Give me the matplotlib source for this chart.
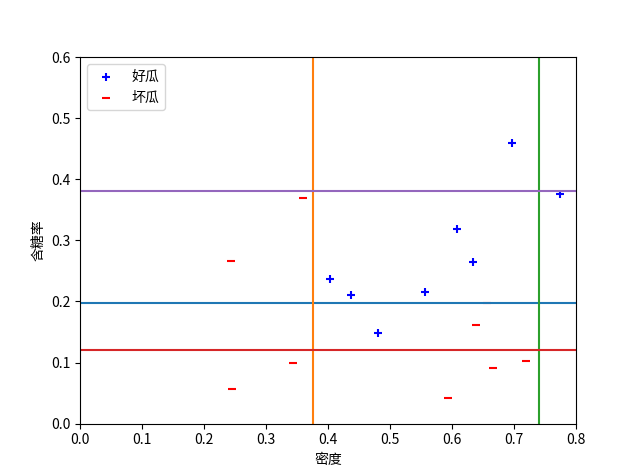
import matplotlib
matplotlib.use("Agg")
import matplotlib.pyplot as plt

plt.rcParams['font.family'] = ['Noto Sans CJK SC', 'DejaVu Sans']
plt.rcParams['axes.unicode_minus'] = False

# watermelon data: density, sugar
good_density = [0.697, 0.774, 0.634, 0.608, 0.556, 0.403, 0.481, 0.437]
good_sugar = [0.460, 0.376, 0.264, 0.318, 0.215, 0.237, 0.149, 0.211]
bad_density = [0.666, 0.243, 0.245, 0.343, 0.639, 0.657, 0.360, 0.593, 0.719]
bad_sugar = [0.091, 0.267, 0.057, 0.099, 0.161, 0.198, 0.370, 0.042, 0.103]

# split lines, in drawing order
hlines_1 = [0.198]
vlines_1 = [0.375]
vlines_2 = [0.74]
hlines_2 = [0.12]
hlines_3 = [0.381]

fig = plt.figure(figsize=(6.4, 4.76), dpi=100)
plt.scatter(good_density, good_sugar, marker='+', c='b', label='好瓜')
plt.scatter(bad_density, bad_sugar, marker='_', c='r', label='坏瓜')

plt.plot([0, 0.8], [hlines_1[0]] * 2)
plt.plot([vlines_1[0]] * 2, [0, 0.6])
plt.plot([vlines_2[0]] * 2, [0, 0.6])
plt.plot([0, 0.8], [hlines_2[0]] * 2)
plt.plot([0, 0.8], [hlines_3[0]] * 2)

plt.xlim(0, 0.8)
plt.ylim(0, 0.6)
plt.xlabel('密度')
plt.ylabel('含糖率')
plt.legend(loc='upper left')
plt.savefig('out.png')
